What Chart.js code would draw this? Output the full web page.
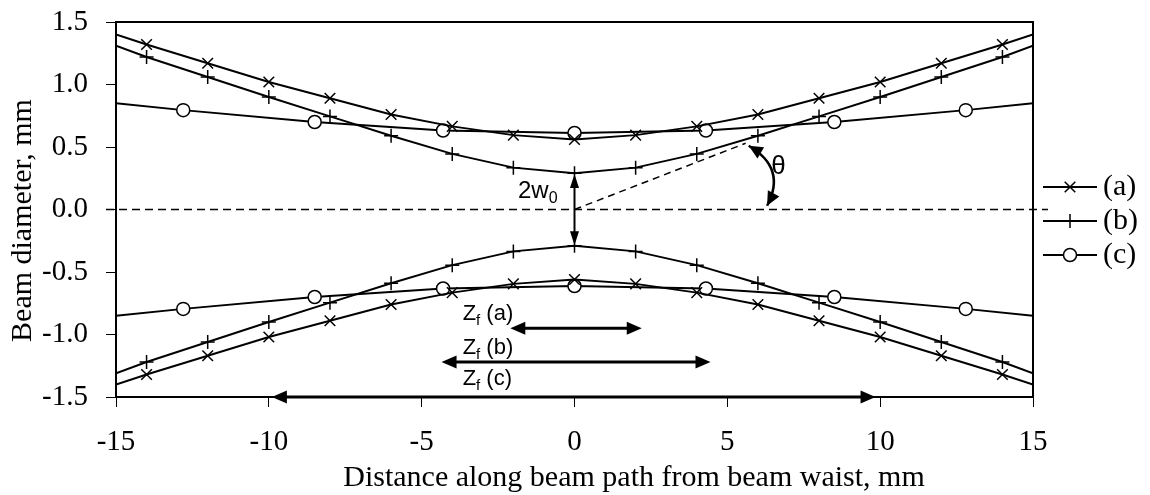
<!DOCTYPE html>
<html lang="en">
<head>
<meta charset="UTF-8">
<title>Beam diameter along the beam path</title>
<script src="https://cdn.jsdelivr.net/npm/chart.js@4"></script>
<style>
    html, body { margin: 0; padding: 0; background: #fff; }
    .wrap { width: 1150px; height: 495px; }
</style>
</head>
<body>
<div class="wrap"><canvas id="beamChart" width="1150" height="495"></canvas></div>
<script>
// Beam profiles (diameter in mm vs. distance from waist in mm).
// The end points at +/-15 carry no marker, they only extend the line to the frame.
const posAB = [-15, -14, -12, -10, -8, -6, -4, -2, 0, 2, 4, 6, 8, 10, 12, 14, 15];
const diamA = [1.40, 1.32, 1.17, 1.02, 0.89, 0.76, 0.665, 0.595, 0.56, 0.595, 0.665, 0.76, 0.89, 1.02, 1.17, 1.32, 1.40];
const diamALow = [-1.40, -1.32, -1.17, -1.02, -0.89, -0.76, -0.665, -0.595, -0.56, -0.595, -0.665, -0.76, -0.89, -1.02, -1.17, -1.32, -1.40];
const diamB = [1.31, 1.22, 1.06, 0.90, 0.745, 0.59, 0.445, 0.335, 0.29, 0.335, 0.445, 0.59, 0.745, 0.90, 1.06, 1.22, 1.31];
const diamBLow = [-1.31, -1.22, -1.06, -0.90, -0.745, -0.59, -0.445, -0.335, -0.29, -0.335, -0.445, -0.59, -0.745, -0.90, -1.06, -1.22, -1.31];
const posC = [-15, -12.8, -8.5, -4.3, 0, 4.3, 8.5, 12.8, 15];
const diamC = [0.85, 0.795, 0.70, 0.632, 0.612, 0.632, 0.70, 0.795, 0.85];
const diamCLow = [-0.85, -0.795, -0.70, -0.632, -0.612, -0.632, -0.70, -0.795, -0.85];

const seriesLabels = ['(a)', '(b)', '(c)'];
const xTicks = [-15, -10, -5, 0, 5, 10, 15];
const yTicks = [-1.5, -1.0, -0.5, 0.0, 0.5, 1.0, 1.5];

// focal range arrows Zf: [from, to] along x, at height y
const zfRanges = [[-2.1, 2.2], [-4.35, 4.45], [-9.9, 9.85]];
const zfLevels = [-0.95, -1.22, -1.5];

const SERIF = '"Liberation Serif", "DejaVu Serif", serif';
const SANS = '"Liberation Sans", Arial, sans-serif';

function pts(xs, ys) {
    return xs.map((x, i) => ({ x: x, y: ys[i] }));
}
function radii(n, r) {
    return Array.from({ length: n }, (_, i) => (i === 0 || i === n - 1) ? 0 : r);
}

const styles = [
    { pointStyle: 'crossRot', radius: 7.5, fill: '#000' },
    { pointStyle: 'cross', radius: 7, fill: '#000' },
    { pointStyle: 'circle', radius: 6.5, fill: '#fff' }
];

function branch(label, data, st) {
    return {
        label: label,
        data: data,
        showLine: true,
        borderColor: '#000',
        borderWidth: 2,
        tension: 0,
        pointStyle: st.pointStyle,
        pointRadius: radii(data.length, st.radius),
        pointHoverRadius: radii(data.length, st.radius),
        pointBorderColor: '#000',
        pointBackgroundColor: st.fill,
        pointBorderWidth: 1.5
    };
}

const datasets = [
    branch(seriesLabels[0], pts(posAB, diamA), styles[0]),
    branch(seriesLabels[0], pts(posAB, diamALow), styles[0]),
    branch(seriesLabels[1], pts(posAB, diamB), styles[1]),
    branch(seriesLabels[1], pts(posAB, diamBLow), styles[1]),
    branch(seriesLabels[2], pts(posC, diamC), styles[2]),
    branch(seriesLabels[2], pts(posC, diamCLow), styles[2])
];

function arrowHead(ctx, tx, ty, fx, fy, len, half) {
    const a = Math.atan2(ty - fy, tx - fx);
    const bx = tx - len * Math.cos(a), by = ty - len * Math.sin(a);
    ctx.beginPath();
    ctx.moveTo(tx, ty);
    ctx.lineTo(bx + half * Math.sin(a), by - half * Math.cos(a));
    ctx.lineTo(bx - half * Math.sin(a), by + half * Math.cos(a));
    ctx.closePath();
    ctx.fill();
}

function doubleArrow(ctx, x1, y1, x2, y2, lw, len, half) {
    const a = Math.atan2(y2 - y1, x2 - x1);
    ctx.lineWidth = lw;
    ctx.beginPath();
    ctx.moveTo(x1 + (len - 1) * Math.cos(a), y1 + (len - 1) * Math.sin(a));
    ctx.lineTo(x2 - (len - 1) * Math.cos(a), y2 - (len - 1) * Math.sin(a));
    ctx.stroke();
    arrowHead(ctx, x1, y1, x2, y2, len, half);
    arrowHead(ctx, x2, y2, x1, y1, len, half);
}

// text with a subscript: main + sub + rest
function subText(ctx, x, y, main, sub, rest, size) {
    ctx.font = size + 'px ' + SANS;
    ctx.fillText(main, x, y);
    let cx = x + ctx.measureText(main).width;
    ctx.font = Math.round(size * 0.68) + 'px ' + SANS;
    ctx.fillText(sub, cx, y + 5);
    cx += ctx.measureText(sub).width;
    if (rest) {
        ctx.font = size + 'px ' + SANS;
        ctx.fillText(rest, cx, y);
    }
}

const beamMarks = {
    id: 'beamMarks',
    beforeDatasetsDraw(chart) {
        const { ctx, chartArea: ca, scales: { x, y } } = chart;
        ctx.save();
        ctx.strokeStyle = '#000';
        ctx.lineWidth = 1.5;
        ctx.setLineDash([8, 5]);
        // beam axis
        ctx.beginPath();
        ctx.moveTo(ca.left - 10, y.getPixelForValue(0));
        ctx.lineTo(ca.right + 15, y.getPixelForValue(0));
        ctx.stroke();
        // divergence asymptote
        ctx.setLineDash([7, 5]);
        ctx.beginPath();
        ctx.moveTo(x.getPixelForValue(0), y.getPixelForValue(0));
        ctx.lineTo(x.getPixelForValue(5.6), y.getPixelForValue(0.53));
        ctx.stroke();
        ctx.restore();
    },
    afterDatasetsDraw(chart) {
        const { ctx, chartArea: ca, scales: { x, y } } = chart;
        ctx.save();
        ctx.strokeStyle = '#000';
        ctx.fillStyle = '#000';

        // frame top and right
        ctx.lineWidth = 2;
        ctx.beginPath();
        ctx.moveTo(ca.left, ca.top);
        ctx.lineTo(ca.right, ca.top);
        ctx.lineTo(ca.right, ca.bottom);
        ctx.stroke();

        // waist 2w0
        const x0 = x.getPixelForValue(0);
        doubleArrow(ctx, x0, y.getPixelForValue(0.285), x0, y.getPixelForValue(-0.285), 2, 14, 4.5);
        ctx.textBaseline = 'alphabetic';
        ctx.textAlign = 'left';
        subText(ctx, x.getPixelForValue(-1.85), y.getPixelForValue(0.096), '2w', '0', '', 24);

        // divergence angle
        const p1x = x.getPixelForValue(5.7), p1y = y.getPixelForValue(0.51);
        const p2x = x.getPixelForValue(6.3), p2y = y.getPixelForValue(0.03);
        const cx = x.getPixelForValue(6.95), cy = y.getPixelForValue(0.33);
        ctx.lineWidth = 2.5;
        ctx.beginPath();
        ctx.moveTo(p1x, p1y);
        ctx.quadraticCurveTo(cx, cy, p2x, p2y);
        ctx.stroke();
        arrowHead(ctx, p1x, p1y, cx, cy, 14, 6.5);
        arrowHead(ctx, p2x, p2y, cx, cy, 14, 6.5);
        ctx.font = '26px ' + SANS;
        ctx.textAlign = 'center';
        ctx.textBaseline = 'middle';
        ctx.fillText('\u03b8', x.getPixelForValue(6.67), y.getPixelForValue(0.34));

        // focal ranges
        ctx.textAlign = 'left';
        ctx.textBaseline = 'alphabetic';
        const zfTextY = [-0.88, -1.157, -1.405];
        zfRanges.forEach((r, i) => {
            const yy = y.getPixelForValue(zfLevels[i]);
            doubleArrow(ctx, x.getPixelForValue(r[0]), yy, x.getPixelForValue(r[1]), yy, 3, 15, 6.5);
            subText(ctx, x.getPixelForValue(-3.66), y.getPixelForValue(zfTextY[i]), 'Z', 'f', ' ' + seriesLabels[i], 22);
        });
        ctx.restore();
    },
    afterDraw(chart) {
        const { ctx, chartArea: ca } = chart;
        ctx.save();
        ctx.strokeStyle = '#000';
        ctx.fillStyle = '#000';

        // axis titles
        ctx.font = '30px ' + SERIF;
        ctx.textAlign = 'center';
        ctx.textBaseline = 'middle';
        ctx.fillText('Distance along beam path from beam waist, mm', (ca.left + chart.width) / 2 + 1, 478);
        ctx.save();
        ctx.translate(23, (ca.top + ca.bottom) / 2 + 11);
        ctx.rotate(-Math.PI / 2);
        ctx.fillText('Beam diameter, mm', 0, 0);
        ctx.restore();

        // legend
        ctx.textAlign = 'left';
        const rowY = [187, 221, 255];
        seriesLabels.forEach((lab, i) => {
            const yy = rowY[i];
            ctx.lineWidth = 2;
            ctx.beginPath();
            ctx.moveTo(ca.right + 10, yy);
            ctx.lineTo(ca.right + 64, yy);
            ctx.stroke();
            ctx.lineWidth = 1.5;
            ctx.fillStyle = styles[i].fill;
            Chart.helpers.drawPoint(ctx, { pointStyle: styles[i].pointStyle, radius: styles[i].radius, rotation: 0, borderWidth: 1.5 }, ca.right + 37, yy);
            ctx.fillStyle = '#000';
            ctx.fillText(lab, ca.right + 70, yy);
        });
        ctx.restore();
    }
};

const tickFont = { family: SERIF, size: 29 };

new Chart(document.getElementById('beamChart'), {
    type: 'scatter',
    data: { datasets: datasets },
    options: {
        responsive: false,
        animation: false,
        events: [],
        layout: { padding: { left: 0, right: 117, top: 22, bottom: 0 } },
        plugins: {
            legend: { display: false },
            tooltip: { enabled: false }
        },
        scales: {
            x: {
                type: 'linear',
                min: xTicks[0],
                max: xTicks[xTicks.length - 1],
                afterBuildTicks: s => { s.ticks = xTicks.map(v => ({ value: v })); },
                afterFit: s => { s.height = 98; s.paddingLeft = 0; s.paddingRight = 0; },
                ticks: { font: tickFont, color: '#000', padding: 18, maxRotation: 0 },
                grid: { drawOnChartArea: false, drawTicks: true, tickLength: 10, color: '#000', lineWidth: 1 },
                border: { display: true, color: '#000', width: 2 }
            },
            y: {
                type: 'linear',
                min: yTicks[0],
                max: yTicks[yTicks.length - 1],
                afterBuildTicks: s => { s.ticks = yTicks.map(v => ({ value: v })); },
                afterFit: s => { s.width = 116; s.paddingTop = 0; s.paddingBottom = 0; },
                ticks: { font: tickFont, color: '#000', padding: 18, callback: v => Number(v).toFixed(1) },
                grid: { drawOnChartArea: false, drawTicks: true, tickLength: 10, color: '#000', lineWidth: 1 },
                border: { display: true, color: '#000', width: 2 }
            }
        }
    },
    plugins: [beamMarks]
});
</script>
</body>
</html>
